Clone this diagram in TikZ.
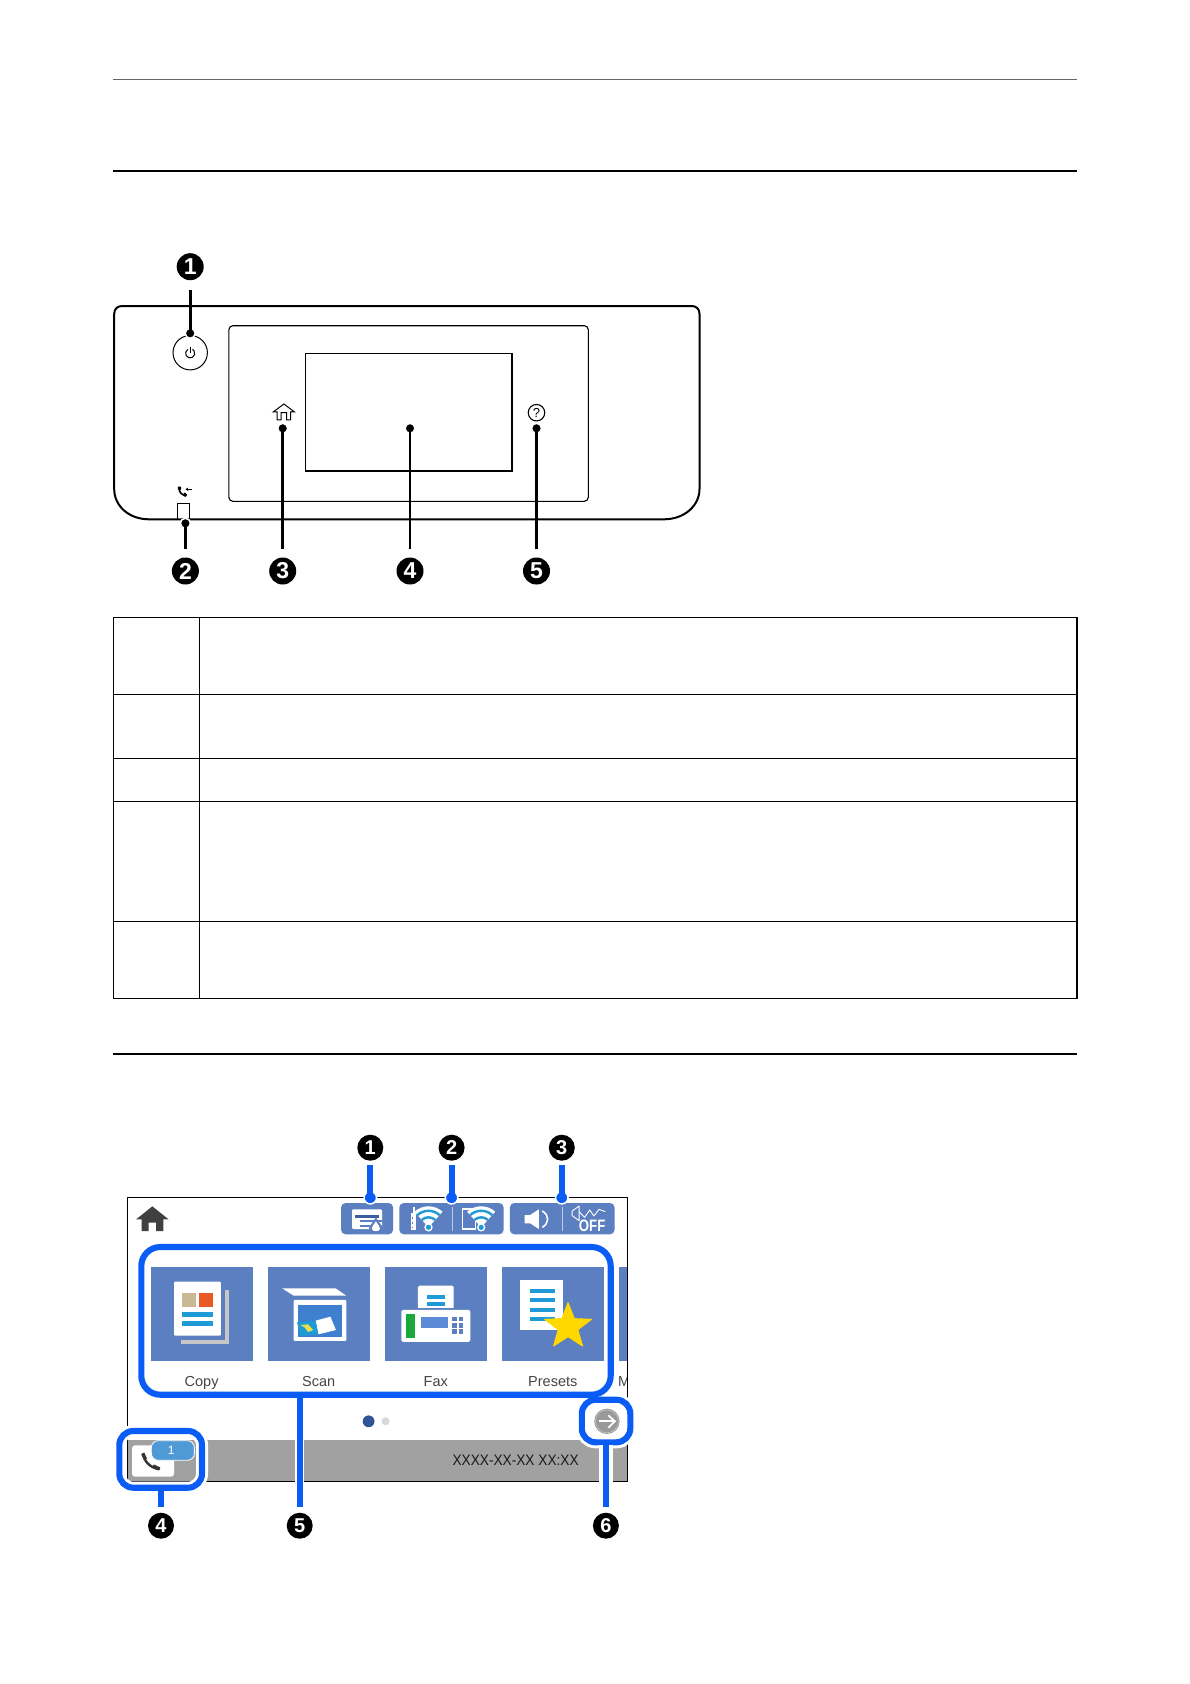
\documentclass[tikz,border=0pt]{standalone}
\usepackage{fontspec}
\usetikzlibrary{arrows.meta}
\setmainfont{Liberation Sans}
\definecolor{tile}{HTML}{5B7FC0}
\definecolor{hl}{HTML}{0A5CF5}
\definecolor{teal}{HTML}{1E9AD6}
\definecolor{lbl}{HTML}{444444}
\definecolor{cbeige}{HTML}{C8B896}
\definecolor{corange}{HTML}{EA5B24}
\definecolor{cscan}{HTML}{3F7FD0}
\definecolor{cyel}{HTML}{E8E04A}
\definecolor{cgreen}{HTML}{1AAA3C}
\definecolor{cdisp}{HTML}{5B8BD6}
\definecolor{cstar}{HTML}{FFD800}
\definecolor{cink}{HTML}{3C5E9E}
\definecolor{cdot}{HTML}{2F5597}
\definecolor{cdotb}{HTML}{D5D8DC}
\definecolor{cnote}{HTML}{4F9AD6}
\tikzset{
 rulegray/.style={draw=black!60,line width=1.2pt},
 ruleblack/.style={draw=black,line width=2.2pt},
 cellline/.style={draw=black,line width=1pt},
 zoneA/.style={shift={(100,240)},x=0.3954pt,y=-0.3333pt},
 zoneB/.style={shift={(110,1130)},x=0.3444pt,y=-0.3333pt},
 zoneC/.style={shift={(110,1260)},x=0.3444pt,y=-0.3333pt},
 badgeA/.style={circle,fill=black,text=white,inner sep=0pt,minimum size=27pt,font=\fontsize{23}{23}\selectfont\bfseries},
 badgeB/.style={circle,fill=black,text=white,inner sep=0pt,minimum size=26pt,font=\fontsize{20}{20}\selectfont\bfseries},
 dotA/.style={circle,fill=black,draw=white,line width=1.5pt,inner sep=0pt,minimum size=10pt},
 dotB/.style={circle,fill=hl,draw=white,line width=1.5pt,inner sep=0pt,minimum size=12.5pt},
 leadA/.style={draw=black,line width=2.6pt},
 leadB/.style={draw=hl,line width=5.8pt},
 halo/.style={preaction={draw=white,line width=#1}},
 hlbox/.style={draw=hl,line width=6.1pt,rectangle,inner sep=0pt},
 tilelabel/.style={text=lbl,inner sep=0pt,anchor=base,font=\fontsize{14.5}{14.5}\selectfont},
 pill/.style={fill=tile,rounded corners=4.5pt},
}
\begin{document}
\begin{tikzpicture}[x=1pt,y=-1pt]
\useasboundingbox (0,0) rectangle (1190,1684);
\fill[white] (0,0) rectangle (1190,1684);
% page rules
\draw[rulegray] (113,79.5) -- (1077,79.5);
\draw[ruleblack] (113,170.7) -- (1077,170.7);
\draw[ruleblack] (113,1053.7) -- (1077,1053.7);
% table
\draw[cellline] (113.3,617.3) rectangle (1077,998.3);
\draw[cellline] (199.3,617.3) -- (199.3,999);
\foreach \yy in {694.3,758.3,801.3,921.3} \draw[cellline] (113.3,\yy) -- (1077,\yy);
\draw[draw=black,line width=1.6pt] (1077,617) -- (1077,999);
% panel
\draw[draw=black,line width=2pt] (122,306) -- (691.5,306) .. controls (696.5,306) and (699.5,309) .. (699.5,314)
 -- (699.5,489) .. controls (699.5,506) and (684,519.3) .. (664,519.3)
 -- (149,519.3) .. controls (129,519.3) and (114.2,506) .. (114.2,489)
 -- (114.2,314) .. controls (114.2,309) and (117.5,306) .. (122,306) -- cycle;
\draw[draw=black,line width=1.1pt,rounded corners=4pt] (228.9,325.7) rectangle (588.3,501.3);
\draw[draw=black,line width=1.5pt] (305.6,353.3) rectangle (512,471);
\node[circle,draw=black,line width=1pt,inner sep=0pt,minimum size=34.4pt] (powerbtn) at (190.2,352.7) {};
\begin{scope}[zoneA]
\draw[black,line width=1pt] (228,340) ++(120:4.6pt) arc[start angle=120,end angle=420,radius=4.6pt];
\draw[black,line width=1pt] (228,322) -- (228,340);
\draw[black,line width=1pt,line join=miter] (438,516) -- (465,492) -- (492,516) -- (482,516) -- (482,540) -- (472,540) -- (472,518) -- (458,518) -- (458,540) -- (448,540) -- (448,516) -- cycle;
\draw[black,line width=1.6pt] (200,744) .. controls (200,758) and (207,766) .. (219,767);
\draw[black,line width=3pt] (197,744) -- (205,745);
\draw[black,line width=3pt] (212,761) -- (218,768);
\draw[black,line width=1pt,-{Stealth[length=3pt,width=3.5pt]}] (232,748) -- (216,748);
\draw[black,line width=1pt] (197,838) -- (197,790) -- (227,790) -- (227,838);
\end{scope}
\node[circle,draw=black,line width=1.1pt,inner sep=0pt,minimum size=16.5pt,font=\fontsize{13}{13}\selectfont] (helpbtn) at (536.5,412.7) {?};
\node[badgeA] (pa1) at (190.2,266.7) {1};
\node[badgeA] (pa2) at (185.4,571) {2};
\node[badgeA] (pa3) at (282.7,571) {3};
\node[badgeA] (pa4) at (410,571) {4};
\node[badgeA] (pa5) at (536.5,571) {5};
\node[dotA] (da1) at (190.2,333.3) {};
\node[dotA] (da2) at (185.4,523.3) {};
\node[dotA] (da3) at (282.7,428.3) {};
\node[dotA] (da4) at (410,428.3) {};
\node[dotA] (da5) at (536.5,428.3) {};
\draw[leadA,shorten <=9.1pt] (pa1) -- (da1.center);
\foreach \k in {2,3,4,5} \draw[leadA,shorten >=8.8pt] (da\k.center) -- (pa\k);
% screen: gray bar and tiles
\fill[black!37] (127.2,1440.3) rectangle (627.6,1481);
\begin{scope}[zoneB]
 \fill[tile] (119,411) rectangle (415,692);
 \fill[tile] (459,411) rectangle (755,692);
 \fill[tile] (798,411) rectangle (1095,692);
 \fill[tile] (1137,411) rectangle (1433,692);
 \fill[tile] (1477,411) rectangle (1503,692);
 % copy
 \fill[black!22] (207,480) rectangle (346,642);
 \fill[tile] (207,480) rectangle (334,630);
 \fill[white,rounded corners=1pt] (186,455) rectangle (322,617);
 \fill[cbeige] (209,489) rectangle (250,530);
 \fill[corange] (258,489) rectangle (298,530);
 \fill[teal] (209,546) rectangle (298,561);
 \fill[teal] (209,574) rectangle (298,589);
 % scan
 \fill[white] (500,475) -- (655,475) -- (686,497) -- (533,497) -- cycle;
 \fill[white,rounded corners=1pt] (533,510) rectangle (686,633);
 \fill[cscan] (546,525) rectangle (674,620);
 \fill[white] (597,572) -- (640,560) -- (656,600) -- (605,613) -- cycle;
 \fill[teal] (543,577) -- (597,572) -- (605,613) -- (553,618) -- cycle;
 \fill[cyel] (553,585) -- (575,583) -- (590,600) -- (575,606) -- (565,592) -- cycle;
 % fax
 \fill[white,rounded corners=1.5pt] (894,467) rectangle (998,545);
 \fill[teal] (919,495) rectangle (974,508);
 \fill[teal] (919,515) rectangle (974,527);
 \fill[tile] (880,534) rectangle (1010,540);
 \fill[white,rounded corners=1.5pt] (846,540) rectangle (1046,636);
 \fill[cgreen] (859,552) rectangle (886,624);
 \fill[cdisp] (904,561) rectangle (982,595);
 \foreach \xa in {994,1012} \foreach \ya in {561,580,598} \fill[tile] (\xa,\ya) rectangle +(13,13);
 % presets
 \fill[white] (1191,451) rectangle (1316,601);
 \foreach \ya in {477,505,534,562} \fill[teal] (1220,\ya) rectangle +(72,12);
 \fill[cstar,draw=cstar,line width=1pt,line join=round] (1330,518) -- (1312,566) -- (1262,568) -- (1301.5,599) -- (1288,648) -- (1330,620) -- (1372,648) -- (1358.5,599) -- (1398,568) -- (1348,566) -- cycle;
\end{scope}
% labels
\node[tilelabel] (lcopy) at (201.6,1386) {Copy};
\node[tilelabel] (lscan) at (318.7,1386) {Scan};
\node[tilelabel] (lfax) at (435.8,1386) {Fax};
\node[tilelabel] (lpre) at (552.8,1386) {Presets};
\begin{scope}
\clip (610,1365) rectangle (627.6,1395);
\node[tilelabel,anchor=base west] (lmore) at (618,1386) {M};
\end{scope}
% status area
\begin{scope}[zoneB]
 \fill[black!75] (76,268) -- (123,229) -- (170,268) -- (155,268) -- (155,303) -- (134,303) -- (134,278) -- (112,278) -- (112,303) -- (92,303) -- (92,268) -- cycle;
 \fill[pill] (671,219) rectangle (822,313);
 \fill[pill] (840,219) rectangle (1143,313);
 \fill[pill] (1161,219) rectangle (1465,313);
 \draw[tile!40!white,line width=.8pt] (993,232) -- (993,303);
 \draw[tile!40!white,line width=.8pt] (1314,232) -- (1314,303);
 % ink icon
 \fill[white,rounded corners=1pt] (703,238) rectangle (790,297);
 \fill[cink] (712,254) rectangle (782,263);
 \fill[tile] (725,270) rectangle (790,277);
 \fill[tile] (725,284) rectangle (755,291);
 \fill[tile] (772,262) .. controls (762,280) and (752,288) .. (752,295) .. controls (752,308) and (792,308) .. (792,295) .. controls (792,288) and (782,280) .. (772,262) -- cycle;
 \fill[white] (772,274) .. controls (766,284) and (760,290) .. (760,296) .. controls (760,306) and (784,306) .. (784,296) .. controls (784,290) and (778,284) .. (772,274) -- cycle;
 % handset
 \fill[white] (873,250) rectangle (888,300);
 \fill[white] (880,230) rectangle (886,250);
 \foreach \ya in {262,276,290} \fill[tile] (876,\ya) rectangle +(4,5);
 % tablet
 \draw[white,line width=1.2pt] (1024,237) rectangle (1062,297);
 % speakers
 \fill[white] (1204,255) -- (1220,255) -- (1245,238) -- (1245,297) -- (1220,280) -- (1204,280) -- cycle;
 \draw[white,line width=1.6pt] (1255,243) .. controls (1276,255) and (1276,280) .. (1255,292);
 \draw[white,line width=.9pt,line join=round] (1342,243) -- (1362,228) -- (1362,272) -- (1342,257) -- cycle;
 \draw[white,line width=.9pt,line join=round] (1362,245) -- (1378,262) -- (1393,240) -- (1405,258) -- (1420,238) -- (1438,245);
 \node[text=white,inner sep=0pt,xscale=.8,font=\fontsize{16.5}{16.5}\selectfont\bfseries] (offlbl) at (1400,288) {OFF};
\end{scope}
% wifi fans
\foreach \nm/\px in {wa/428.5,wb/481.2}{
 \coordinate (\nm) at (\px,1227.3);
 \fill[white] (\nm) -- +(48:21pt) arc[start angle=48,end angle=132,radius=21pt] -- cycle;
 \draw[teal,line width=2.4pt] (\nm) +(48:16.5pt) arc[start angle=48,end angle=132,radius=16.5pt];
 \draw[teal,line width=2.4pt] (\nm) +(48:10pt) arc[start angle=48,end angle=132,radius=10pt];
 \fill[white] (\nm) circle[radius=4.2pt];
 \fill[teal] (\nm) circle[radius=2.6pt];
}
% pagination
\fill[cdot] (368.6,1421.3) circle[radius=5.9pt];
\fill[cdotb] (385.5,1421.3) circle[radius=4pt];
% datetime
\node[text=black!90,inner sep=0pt,xscale=.9,font=\fontsize{15.2}{15.2}\selectfont] (clock) at (515.6,1460) {XXXX-XX-XX XX:XX};
% frame
\draw[black,line width=1pt] (127.2,1197.7) rectangle (627.6,1481);
% highlight boxes
\node[hlbox,halo=12pt,rounded corners=14pt,minimum width=48.5pt,minimum height=42.6pt] (arrowbox) at (606.05,1421) {};
\node[hlbox,rounded corners=19pt,minimum width=469.4pt,minimum height=147.7pt] (bigbox) at (376,1320.85) {};
\node[hlbox,halo=12pt,rounded corners=14pt,minimum width=82.7pt,minimum height=56.7pt] (phonebox) at (160.65,1459.35) {};
% arrow button
\node[circle,fill=black!40,inner sep=0pt,minimum size=25.4pt] (nextbtn) at (606.9,1421.3) {};
\draw[black!22,line width=.6pt] (nextbtn) circle[radius=11.5pt];
\begin{scope}[zoneC]
 \draw[white,line width=1.8pt] (1420,484) -- (1465,484);
 \draw[white,line width=1.8pt] (1447,466) -- (1466,484) -- (1447,503);
 % phone key
 \fill[white,rounded corners=3pt] (64,556) rectangle (186,650);
 \fill[cnote,draw=white,line width=.8pt,rounded corners=7pt] (120,542) rectangle (245,601);
 \draw[black!80,line width=2.4pt,line cap=round] (97,582) .. controls (98,605) and (120,625) .. (142,627);
 \draw[black!80,line width=3.4pt] (95,580) -- (103,598);
 \draw[black!80,line width=3.4pt] (125,618) -- (144,627);
\end{scope}
\node[text=white,inner sep=0pt,font=\fontsize{12}{12}\selectfont] (countlbl) at (171.3,1450) {1};
% screen badges
\node[badgeB] (sb1) at (370.3,1147.7) {1};
\node[badgeB] (sb2) at (451.6,1147.7) {2};
\node[badgeB] (sb3) at (561.8,1147.7) {3};
\node[badgeB] (sb4) at (161,1525.7) {4};
\node[badgeB] (sb5) at (299.7,1525.7) {5};
\node[badgeB] (sb6) at (605.9,1525.7) {6};
\node[dotB] (db1) at (370.3,1197.7) {};
\node[dotB] (db2) at (451.6,1197.7) {};
\node[dotB] (db3) at (561.8,1197.7) {};
\foreach \k in {1,2,3} \draw[leadB,shorten <=4.5pt] (sb\k) -- (db\k.center);
\draw[leadB,halo=9.5pt,shorten >=5.3pt] (phonebox.south -| sb4) -- (sb4);
\draw[leadB,halo=9.5pt,shorten >=5.3pt] (bigbox.south -| sb5) -- (sb5);
\draw[leadB,halo=14pt,shorten >=5.3pt] (arrowbox.south -| sb6) -- (sb6);
\end{tikzpicture}
\end{document}
